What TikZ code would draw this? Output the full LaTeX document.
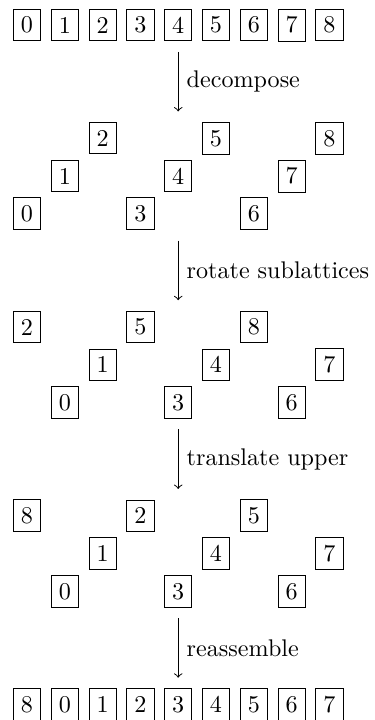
\documentclass[tikz,border=0pt]{standalone}
\begin{document}
\begin{tikzpicture}[x=0.415pt,y=-0.415pt,
  cell/.style={draw,inner sep=3.15pt},
  flow/.style={->},
  lbl/.style={right}]
\useasboundingbox (0,0) rectangle (375,720);
\def\px#1{27+#1*37.8}
\def\py#1{25+#1*37.75}
% row 1: original lattice
\foreach \v in {0,...,8}
  \node[cell] (a\v) at ({\px{\v}},{\py{0}}) {\v};
% row 2: decomposed
\foreach \v/\x/\y in {0/0/5,1/1/4,2/2/3,3/3/5,4/4/4,5/5/3,6/6/5,7/7/4,8/8/3}
  \node[cell] (b\v) at ({\px{\x}},{\py{\y}}) {\v};
% row 3: rotated sublattices
\foreach \v/\x/\y in {2/0/8,5/3/8,8/6/8,1/2/9,4/5/9,7/8/9,0/1/10,3/4/10,6/7/10}
  \node[cell] (c\v) at ({\px{\x}},{\py{\y}}) {\v};
% row 4: translated upper
\foreach \v/\x/\y in {8/0/13,2/3/13,5/6/13,1/2/14,4/5/14,7/8/14,0/1/15,3/4/15,6/7/15}
  \node[cell] (d\v) at ({\px{\x}},{\py{\y}}) {\v};
% row 5: reassembled
\foreach \v/\x in {8/0,0/1,1/2,2/3,3/4,4/5,5/6,6/7,7/8}
  \node[cell] (e\v) at ({\px{\x}},{\py{18}}) {\v};
% arrows
\coordinate (s1) at ({\px{4}},{\py{0.71}});
\coordinate (t1) at ({\px{4}},{\py{2.29}});
\coordinate (s2) at ({\px{4}},{\py{5.71}});
\coordinate (t2) at ({\px{4}},{\py{7.29}});
\coordinate (s3) at ({\px{4}},{\py{10.71}});
\coordinate (t3) at ({\px{4}},{\py{12.29}});
\coordinate (s4) at ({\px{4}},{\py{15.71}});
\coordinate (t4) at ({\px{4}},{\py{17.29}});
\draw[flow] (s1) -- node[lbl] {decompose} (t1);
\draw[flow] (s2) -- node[lbl] {rotate sublattices} (t2);
\draw[flow] (s3) -- node[lbl] {translate upper} (t3);
\draw[flow] (s4) -- node[lbl] {reassemble} (t4);
\end{tikzpicture}
\end{document}
